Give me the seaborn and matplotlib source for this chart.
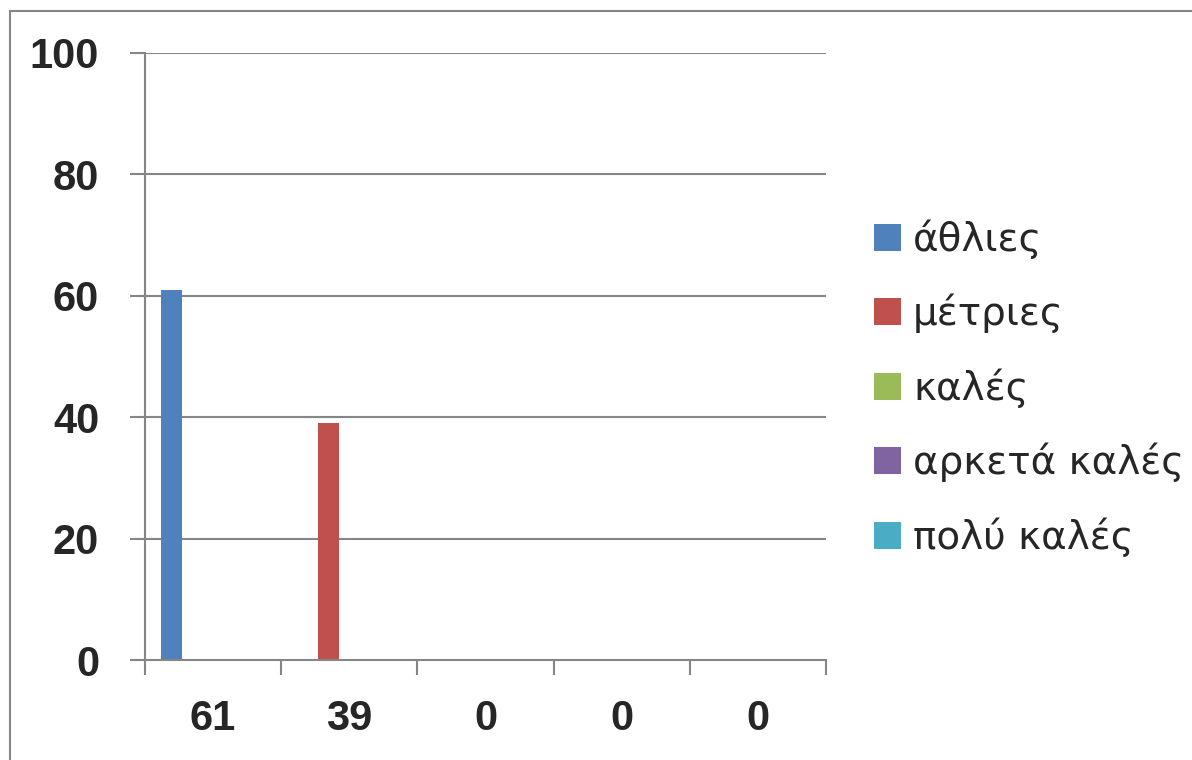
import matplotlib
matplotlib.use("Agg")
import matplotlib.pyplot as plt
import matplotlib.patches as mpatches
import seaborn as sns
import pandas as pd

categories = ["61", "39", "0", "0", "0"]
series = ["άθλιες", "μέτριες", "καλές", "αρκετά καλές", "πολύ καλές"]
values = [61, 39, 0, 0, 0]
colors = ["#4F81BD", "#C0504D", "#9BBB59", "#8064A2", "#4BACC6"]
yticks = [0, 20, 40, 60, 80, 100]

rows = []
for ci, cat in enumerate(categories):
    for si, s in enumerate(series):
        rows.append({"cat": ci, "series": s, "value": values[ci] if ci == si else 0})
df = pd.DataFrame(rows)

sns.set_theme(style="white")
plt.rcParams["font.family"] = ["Liberation Sans", "DejaVu Sans"]

W, H = 1192, 760
fig = plt.figure(figsize=(W / 100, H / 100), dpi=100)
ax = fig.add_axes([145 / W, 1 - 660 / H, (826 - 145) / W, (660 - 53) / H])

gray = "#868686"
sns.barplot(data=df, x="cat", y="value", hue="series", hue_order=series,
            palette=colors, saturation=1, width=0.77, linewidth=0, ax=ax,
            legend=False, native_scale=True, errorbar=None)

ax.set_xlim(-0.5, 4.5)
ax.set_ylim(0, 100)
ax.set_yticks(yticks)
ax.set_yticklabels([str(v) for v in yticks])
ax.set_xticks(range(len(categories)))
ax.set_xticklabels(categories)
ax.set_xticks([i - 0.5 for i in range(len(categories) + 1)], minor=True)
ax.set_xlabel("")
ax.set_ylabel("")

for v in yticks[1:]:
    ax.axhline(v, color=gray, lw=1.5, zorder=0)
ax.set_axisbelow(True)

for side in ["top", "right"]:
    ax.spines[side].set_visible(False)
for side in ["left", "bottom"]:
    ax.spines[side].set_color(gray)
    ax.spines[side].set_linewidth(1.5)

ax.tick_params(axis="y", which="major", direction="out", length=11, width=1.5,
               color=gray, pad=22, labelsize=30, left=True)
ax.tick_params(axis="x", which="major", length=0, pad=28, labelsize=30)
ax.tick_params(axis="x", which="minor", direction="out", length=11, width=1.5,
               color=gray, bottom=True)
for lab in ax.get_xticklabels() + ax.get_yticklabels():
    lab.set_fontweight("bold")

handles = [mpatches.Patch(facecolor=c, edgecolor="none", label=s) for c, s in zip(colors, series)]
fig.legend(handles=handles, loc="center left", bbox_to_anchor=(874 / W, 1 - 388 / H),
           frameon=False, prop={"family": "DejaVu Sans", "size": 28},
           handlelength=0.7, handleheight=0.7, handletextpad=0.3, labelspacing=0.9,
           borderaxespad=0, borderpad=0)

frame = mpatches.Rectangle((10 / W, -0.1), 1.2, (H - 11) / H + 0.1,
                           transform=fig.transFigure, fill=False,
                           edgecolor=gray, linewidth=1.5, clip_on=False)
fig.patches.append(frame)

fig.savefig("out.png", dpi=100)
